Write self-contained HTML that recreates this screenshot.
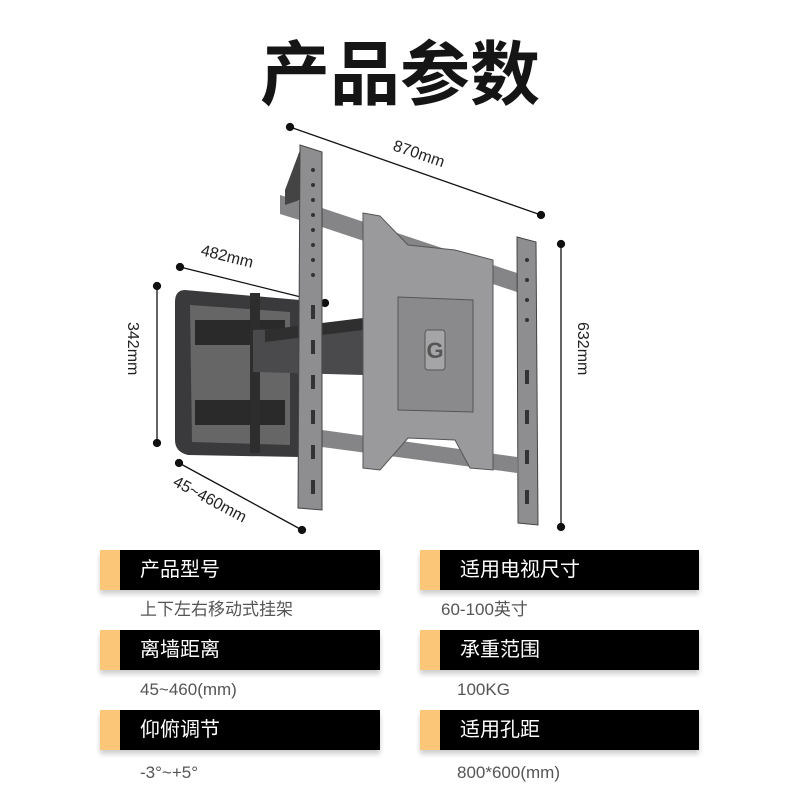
<!DOCTYPE html>
<html><head><meta charset="utf-8"><style>
body{margin:0;width:800px;height:800px;background:#fff;position:relative;overflow:hidden;font-family:"Liberation Sans","Noto Sans CJK SC",sans-serif}
.t{position:absolute;left:0;top:30px;width:800px;text-align:center;font-size:70px;font-weight:bold;color:#151515;line-height:90px}
.bar{position:absolute;height:40px;background:#000;box-shadow:0 4px 5px rgba(0,0,0,.2)}
.bar i{position:absolute;left:0;top:0;width:20px;height:40px;background:#fbc677}
.bar span{position:absolute;left:40px;top:0;line-height:40px;color:#fff;font-size:20px}
.s{position:absolute;font-size:17px;color:#555;line-height:20px}
</style></head><body>
<div class="t">产品参数</div>
<svg width="800" height="540" style="position:absolute;left:0;top:0">
<g fill="#111" stroke="#111" stroke-width="1.3">
<line x1="290" y1="127" x2="541" y2="215"/><circle cx="290" cy="127" r="3.5"/><circle cx="541" cy="215" r="3.5"/>
<line x1="180" y1="267" x2="325" y2="303"/><circle cx="180" cy="267" r="3.5"/><circle cx="325" cy="303" r="3.5"/>
<line x1="157" y1="286" x2="157" y2="443"/><circle cx="157" cy="286" r="3.5"/><circle cx="157" cy="443" r="3.5"/>
<line x1="561" y1="244" x2="561" y2="527"/><circle cx="561" cy="244" r="3.5"/><circle cx="561" cy="527" r="3.5"/>
<line x1="179" y1="463" x2="302" y2="530"/><circle cx="179" cy="463" r="3.5"/><circle cx="302" cy="530" r="3.5"/>
</g>
<g font-family="Liberation Sans, sans-serif" font-size="16" fill="#222">
<text x="0" y="0" transform="translate(392,150) rotate(19)">870mm</text>
<text x="0" y="0" transform="translate(200,255) rotate(14)">482mm</text>
<text x="0" y="0" transform="translate(128,322) rotate(90)">342mm</text>
<text x="0" y="0" transform="translate(578,322) rotate(90)">632mm</text>
<text x="0" y="0" transform="translate(172,485) rotate(28)">45~460mm</text>
</g>
<path d="M185 290 L300 300 L300 457 L188 455 Q175 452 175 440 L175 302 Q175 290 185 290Z" fill="#3a3a3c"/>
<path d="M190 305 L290 312 L290 445 L192 442Z" fill="#666"/>
<rect x="195" y="320" width="90" height="25" fill="#2a2a2a"/><rect x="195" y="400" width="90" height="25" fill="#2a2a2a"/>
<rect x="250" y="293" width="10" height="160" fill="#2d2d2d"/>
<polygon points="253,330 363,325 363,375 253,372" fill="#4a4a4c"/>
<polygon points="265,330 363,318 363,330 265,342" fill="#2f2f30"/>
<polygon points="280,195 322,208 517,273 517,292 322,227 280,214" fill="#858587"/>
<polygon points="322,430 517,457 517,473 322,447" fill="#858587"/>
<polygon points="300,150 300,200 285,205 285,190" fill="#444"/>
<polygon points="300,145 322,152 322,510 298,508" fill="#8e8e90" stroke="#444" stroke-width="1"/>
<path d="M363 213 L380 216 L408 245 L455 250 L493 260 L493 470 L470 468 L455 440 L408 438 L380 470 L363 468Z" fill="#9a9a9c" stroke="#555" stroke-width="1"/>
<polygon points="398,297 473,300 473,412 398,410" fill="#8a8a8c" stroke="#555" stroke-width="1"/>
<rect x="425" y="330" width="20" height="40" rx="3" fill="#a5a5a7" stroke="#555"/>
<text x="435" y="358" font-family="Liberation Sans" font-weight="bold" font-size="22" fill="#555" text-anchor="middle">G</text>
<polygon points="517,237 536,242 538,525 518,523" fill="#8e8e90" stroke="#444" stroke-width="1"/>
<g fill="#333">
<circle cx="313" cy="170" r="2"/><circle cx="313" cy="185" r="2"/><circle cx="313" cy="200" r="2"/><circle cx="313" cy="215" r="2"/><circle cx="313" cy="230" r="2"/><circle cx="313" cy="245" r="2"/><circle cx="313" cy="260" r="2"/><circle cx="313" cy="275" r="2"/>
<rect x="311" y="305" width="4" height="14"/><rect x="311" y="340" width="4" height="14"/><rect x="311" y="375" width="4" height="14"/><rect x="311" y="410" width="4" height="14"/><rect x="311" y="445" width="4" height="14"/><rect x="311" y="480" width="4" height="14"/>
<circle cx="527" cy="260" r="2"/><circle cx="527" cy="280" r="2"/><circle cx="527" cy="300" r="2"/><circle cx="527" cy="320" r="2"/>
<rect x="525" y="370" width="4" height="14"/><rect x="525" y="410" width="4" height="14"/><rect x="525" y="450" width="4" height="14"/><rect x="525" y="490" width="4" height="14"/>
</g>
</svg>
<div class="bar" style="left:100px;top:550px;width:280px"><i></i><span>产品型号</span></div>
<div class="s" style="left:140px;top:600px">上下左右移动式挂架</div>
<div class="bar" style="left:100px;top:630px;width:280px"><i></i><span>离墙距离</span></div>
<div class="s" style="left:140px;top:680px">45~460(mm)</div>
<div class="bar" style="left:100px;top:710px;width:280px"><i></i><span>仰俯调节</span></div>
<div class="s" style="left:140px;top:763px">-3°~+5°</div>
<div class="bar" style="left:420px;top:550px;width:279px"><i></i><span>适用电视尺寸</span></div>
<div class="s" style="left:441px;top:600px">60-100英寸</div>
<div class="bar" style="left:420px;top:630px;width:279px"><i></i><span>承重范围</span></div>
<div class="s" style="left:457px;top:680px">100KG</div>
<div class="bar" style="left:420px;top:710px;width:279px"><i></i><span>适用孔距</span></div>
<div class="s" style="left:457px;top:763px">800*600(mm)</div>
</body></html>
